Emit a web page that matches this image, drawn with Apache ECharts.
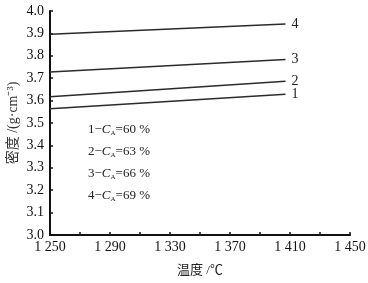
<!DOCTYPE html>
<html>
<head>
<meta charset="utf-8">
<script src="https://cdn.jsdelivr.net/npm/echarts@6/dist/echarts.min.js"></script>
<style>
  html, body { margin: 0; padding: 0; background: #fff; }
  #chart { width: 368px; height: 283px; }
</style>
</head>
<body>
<div id="chart"></div>
<script>
// 温度 (x) 与各配比下的密度 (y)
const temps = [1250, 1407]
const names = ['1', '2', '3', '4']
const density1 = [3.564, 3.628]
const density2 = [3.617, 3.686]
const density3 = [3.728, 3.784]
const density4 = [3.896, 3.942]
const legendTexts = [
  ['1−', '60 %'],
  ['2−', '63 %'],
  ['3−', '66 %'],
  ['4−', '69 %']
]

const font = '"Liberation Serif", "Noto Sans CJK SC", serif'
const chart = echarts.init(document.getElementById('chart'))

const makeSeries = (name, vals) => ({
  name: name,
  type: 'line',
  data: temps.map((t, i) => [t, vals[i]]),
  symbol: 'none',
  lineStyle: { color: '#2b2b2b', width: 1.5 },
  endLabel: {
    show: true,
    formatter: name,
    distance: 6,
    color: '#222',
    fontFamily: font,
    fontSize: 14
  },
  silent: true
})

const option = {
  animation: false,
  backgroundColor: '#fff',
  grid: { left: 50, right: 18, top: 11, bottom: 48, outerBoundsMode: 'none', containLabel: false },
  xAxis: {
    type: 'value',
    min: 1250,
    max: 1450,
    interval: 20,
    name: '温度 /℃',
    nameLocation: 'middle',
    nameGap: 29,
    nameMoveOverlap: false,
    nameTextStyle: { color: '#222', fontFamily: font, fontSize: 13 },
    axisLine: { lineStyle: { color: '#111', width: 2 } },
    axisTick: { inside: true, length: 3, lineStyle: { color: '#111', width: 1.5 } },
    axisLabel: {
      color: '#111',
      fontFamily: font,
      fontSize: 14,
      margin: 5,
      showMaxLabel: true,
      formatter: v => ((v - 1250) % 40 === 0 ? String(v).replace(/^(\d)(\d{3})$/, '$1 $2') : '')
    },
    splitLine: { show: false }
  },
  yAxis: {
    type: 'value',
    min: 3.0,
    max: 4.0,
    interval: 0.1,
    name: '密度 /(g·cm⁻³)',
    nameLocation: 'middle',
    nameRotate: 90,
    nameGap: 30,
    nameMoveOverlap: false,
    nameTextStyle: { color: '#333', fontFamily: font, fontSize: 14 },
    axisLine: { show: true, lineStyle: { color: '#111', width: 2 } },
    axisTick: { show: true, inside: true, length: 3, lineStyle: { color: '#111', width: 1.5 } },
    axisLabel: {
      color: '#111',
      fontFamily: font,
      fontSize: 14,
      margin: 6,
      formatter: v => v.toFixed(1)
    },
    splitLine: { show: false }
  },
  graphic: legendTexts.map((t, i) => ({
    type: 'text',
    left: 88,
    top: 123 + i * 22,
    silent: true,
    style: {
      text: t[0] + '{c|C}{s|A}=' + t[1],
      fill: '#222',
      font: '13px ' + font,
      rich: {
        c: { fontStyle: 'italic', fontFamily: font, fontSize: 13, fill: '#222' },
        s: { fontFamily: font, fontSize: 7, fill: '#222', verticalAlign: 'bottom', padding: [7, 0, 0, 0] }
      }
    }
  })),
  series: [
    makeSeries(names[0], density1),
    makeSeries(names[1], density2),
    makeSeries(names[2], density3),
    makeSeries(names[3], density4)
  ]
}

chart.setOption(option)
</script>
</body>
</html>
